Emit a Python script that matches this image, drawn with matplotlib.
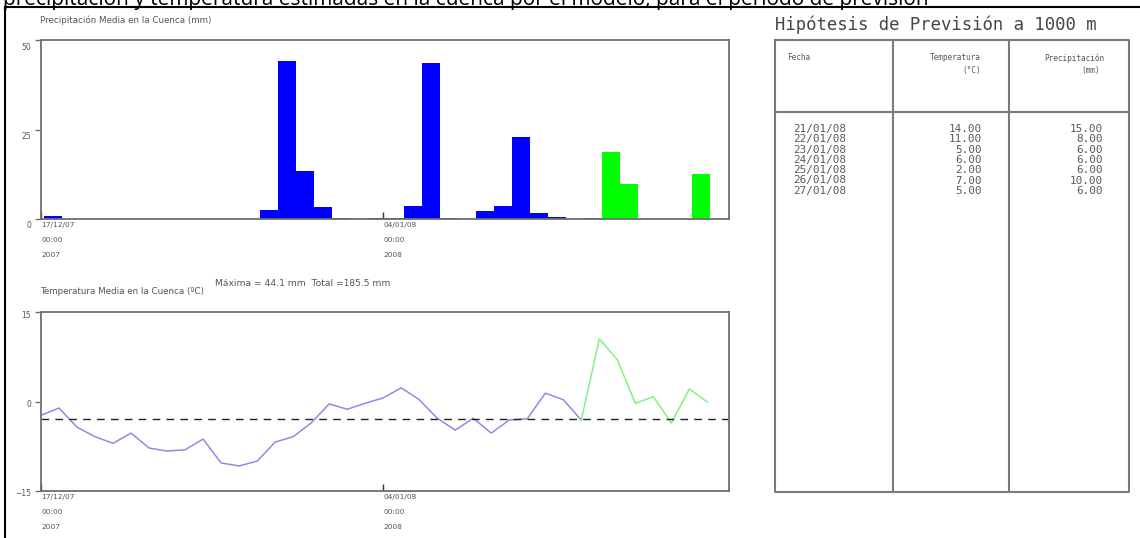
import matplotlib
matplotlib.use("Agg")
import matplotlib.pyplot as plt
import matplotlib.transforms as mtransforms
import numpy as np

# precipitacion media diaria en la cuenca (mm): observada y prevista
precip_obs = [0.8, 0, 0, 0, 0, 0, 0, 0, 0, 0, 0, 0, 2.5, 44.1, 13.4, 3.4, 0.4, 0,
              0.3, 0.3, 3.6, 43.6, 0.4, 0, 2.3, 3.6, 23.0, 1.7, 0.6, 0, 0.3]
precip_prev = [18.6, 9.9, 0, 0, 0, 12.7, 0]

# temperatura media en la cuenca (ºC)
temp_obs = [-2.3, -1.1, -4.3, -5.9, -7.0, -5.3, -7.8, -8.3, -8.1, -6.3, -10.3,
            -10.8, -10.0, -6.8, -5.9, -3.6, -0.4, -1.3, -0.3, 0.6, 2.3, 0.3,
            -2.8, -4.8, -2.8, -5.3, -3.1, -2.9, 1.4, 0.3, -3.1]
temp_prev = [-3.1, 10.5, 7.0, -0.3, 0.8, -3.6, 2.1, -0.1]
temp_ref = -3

# etiquetas del eje temporal
tick_dias = [0, 19]
tick_textos = ["17/12/07\n00:00\n2007", "04/01/08\n00:00\n2008"]

# tabla de hipotesis de prevision a 1000 m
fechas_tabla = ["21/01/08", "22/01/08", "23/01/08", "24/01/08",
                "25/01/08", "26/01/08", "27/01/08"]
temp_tabla = [14.00, 11.00, 5.00, 6.00, 2.00, 7.00, 5.00]
prec_tabla = [15.00, 8.00, 6.00, 6.00, 6.00, 10.00, 6.00]

W, H, DPI = 1140, 538, 100
GRIS = "#555555"
MARCO = "#6e6e6e"

fig = plt.figure(figsize=(W / DPI, H / DPI), dpi=DPI)


def px_axes(left, top, right, bottom):
    return fig.add_axes([left / W, 1 - bottom / H, (right - left) / W, (bottom - top) / H])


def estilo_eje(ax, dy_px):
    for s in ax.spines.values():
        s.set_color(MARCO)
        s.set_linewidth(1.3)
    ax.tick_params(axis="y", direction="out", length=4, width=1, color=MARCO,
                   labelsize=5.5, labelcolor=GRIS, pad=3)
    ax.tick_params(axis="x", direction="in", length=5, width=1, color="#333333",
                   labelsize=5.3, labelcolor=GRIS, pad=2)
    ax.set_xticks(tick_dias)
    ax.set_xticklabels(tick_textos, ha="left", linespacing=2.8)
    off = mtransforms.ScaledTranslation(0, -dy_px / DPI, fig.dpi_scale_trans)
    for lab in ax.get_yticklabels():
        lab.set_transform(lab.get_transform() + off)


n_obs = len(precip_obs)
x_obs = np.arange(n_obs)
x_prev = np.arange(n_obs, n_obs + len(precip_prev))
x_max = 38.2
desfase = 0.15

# --- precipitacion ---
ax1 = px_axes(41, 40, 729, 219)
ax1.bar(x_obs + desfase, precip_obs, width=1, align="edge", color="#0000ff", linewidth=0)
ax1.bar(x_prev + desfase, precip_prev, width=1, align="edge", color="#00ff00", linewidth=0)
ax1.set_xlim(0, x_max)
ax1.set_ylim(0, 50)
ax1.set_yticks([0, 25, 50])
estilo_eje(ax1, 6)

# --- temperatura ---
ax2 = px_axes(41, 312, 729, 491)
ax2.plot(np.arange(len(temp_obs)), temp_obs, color="#8c8ce6", lw=1.1)
ax2.plot(np.arange(len(temp_obs) - 1, len(temp_obs) - 1 + len(temp_prev)), temp_prev,
         color="#84f084", lw=1.1)
ax2.axhline(temp_ref, color="#222222", lw=1, dashes=(5.5, 4.5))
ax2.set_xlim(0, x_max)
ax2.set_ylim(-15, 15)
ax2.set_yticks([-15, 0, 15])
estilo_eje(ax2, 2)

todas = precip_obs + precip_prev

# --- capa en pixeles: marco, rotulos y tabla ---
lay = fig.add_axes([0, 0, 1, 1], zorder=-1)
lay.set_xlim(0, W)
lay.set_ylim(H, 0)
lay.axis("off")

lay.text(3, 4.5, "precipitación y temperatura estimadas en la cuenca por el modelo, "
         "para el periodo de previsión", fontsize=15, family="Open Sans",
         va="baseline", ha="left", color="black")
lay.plot([5, W], [7, 7], color="black", lw=1.5)
lay.plot([5, 5], [7, H], color="black", lw=1.5)

lay.text(40, 20, "Precipitación Media en la Cuenca (mm)", fontsize=6.3, color=GRIS,
         va="center", ha="left")
lay.text(40, 292, "Temperatura Media en la Cuenca (ºC)", fontsize=6.3, color=GRIS,
         va="center", ha="left")
lay.text(215, 283, f"Máxima = {max(todas):.1f} mm  Total ={sum(todas):.1f} mm",
         fontsize=6.6, color=GRIS, va="center", ha="left")

# tabla
mono = "DejaVu Sans Mono"
lay.text(775, 25, "Hipótesis de Previsión a 1000 m", fontsize=12.4, family=mono,
         color="#444444", va="center", ha="left")
t_left, t_right, t_top, t_sep, t_bot = 775, 1129, 40, 112, 492
c1, c2 = 893, 1009
kw = dict(color="#7a7a7a", lw=1.5)
lay.plot([t_left, t_right, t_right, t_left, t_left], [t_top, t_top, t_bot, t_bot, t_top], **kw)
lay.plot([t_left, t_right], [t_sep, t_sep], **kw)
lay.plot([c1, c1], [t_top, t_bot], **kw)
lay.plot([c2, c2], [t_top, t_bot], **kw)

hk = dict(fontsize=5.6, family=mono, color=GRIS, va="center")
lay.text(787, 58, "Fecha", ha="left", **hk)
lay.text(981, 58, "Temperatura", ha="right", **hk)
lay.text(981, 71, "(°C)", ha="right", **hk)
lay.text(1104, 58, "Precipitación", ha="right", **hk)
lay.text(1100, 71, "(mm)", ha="right", **hk)

rk = dict(fontsize=7.9, family=mono, color="#5a5a5a", va="center")
y0, dy = 129, 10.3
for i, (f, t, p) in enumerate(zip(fechas_tabla, temp_tabla, prec_tabla)):
    y = y0 + i * dy
    lay.text(793, y, f, ha="left", **rk)
    lay.text(982, y, f"{t:.2f}", ha="right", **rk)
    lay.text(1103, y, f"{p:.2f}", ha="right", **rk)

fig.savefig("out.png", dpi=DPI, facecolor="white")
